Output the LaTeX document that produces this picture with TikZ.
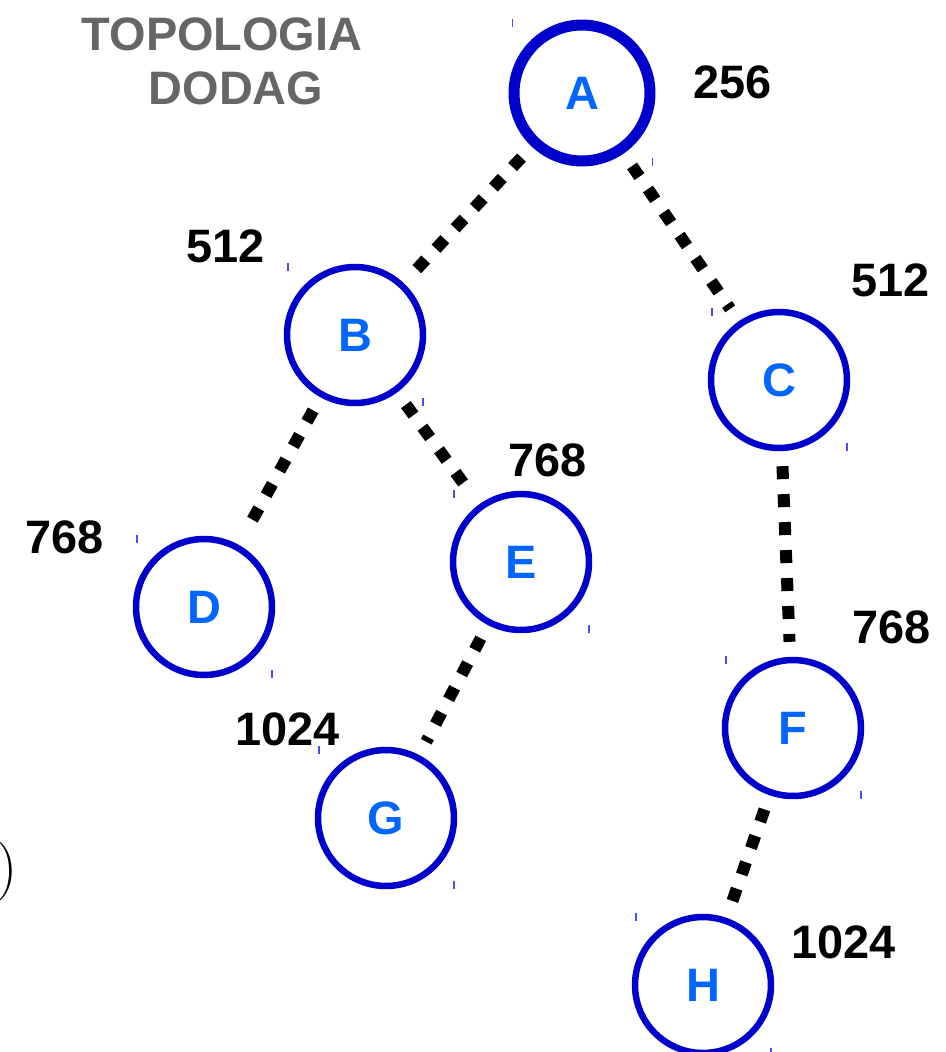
\documentclass[tikz,border=0pt]{standalone}
\usepackage{fontspec}
\newfontfamily\labelfont{Liberation Sans}
\usetikzlibrary{calc}
\definecolor{ringblue}{HTML}{0000CC}
\definecolor{letterblue}{HTML}{0066FF}
\definecolor{titlegray}{HTML}{666666}

\begin{document}
\begin{tikzpicture}[x=0.02cm, y=-0.02cm,
  font=\labelfont\bfseries\fontsize{26.7}{31}\selectfont,
  rank/.style={draw=ringblue, circle, line width=0.13cm, minimum size=2.72cm, inner sep=0, text=letterblue},
  root/.style={rank, line width=0.22cm},
  weight/.style={anchor=base west, inner sep=0},
  link/.style={line width=0.24cm, dash pattern=on 0.26cm off 0.3cm, shorten <=0.3cm, shorten >=0.3cm},
  handle/.style={draw=blue!70, line width=0.03cm}]

\useasboundingbox (0,0) rectangle (946,1052);

% Title
\node (title1) [anchor=base, inner sep=0, text=titlegray] at (222,50) {TOPOLOGIA};
\node (title2) [anchor=base, inner sep=0, text=titlegray] at (236,104) {DODAG};

% Nodes
\node (A) [root] at (582,93) {A};
\node (B) [rank] at (355,335) {B};
\node (C) [rank] at (779,380) {C};
\node (D) [rank] at (204,607) {D};
\node (E) [rank] at (521,562) {E};
\node (F) [rank] at (793,728) {F};
\node (G) [rank] at (386,818) {G};
\node (H) [rank] at (703,985) {H};

% Rank values
\node (wA) [weight] at (693,98) {256};
\node (wB) [weight] at (186,262) {512};
\node (wC) [weight] at (851,296) {512};
\node (wE) [weight] at (508,476) {768};
\node (wD) [weight] at (25,553) {768};
\node (wG) [weight] at (235,745) {1024};
\node (wF) [weight] at (852,643) {768};
\node (wH) [weight] at (791,958) {1024};

\node (paren) [anchor=base east, inner sep=0, font=\normalfont\fontsize{34}{34}\selectfont] at (18,886) {)};

% Links
\draw[link] (A) -- (B);
\draw[link] (A) -- (C);
\draw[link] (B) -- (D);
\draw[link] (B) -- (E);
\draw[link] (E) -- (G);
\draw[link] (C) -- (F);
\draw[link] (F) -- (H);

% Selection handles
\foreach \n in {A,B,C,D,E,F,G,H} {
  \draw[handle] ($(\n.north -| \n.west)+(4,-1)$) -- ++(0,8);
  \draw[handle] ($(\n.south -| \n.east)+(-3,-8)$) -- ++(0,8);
}

\end{tikzpicture}
\end{document}
